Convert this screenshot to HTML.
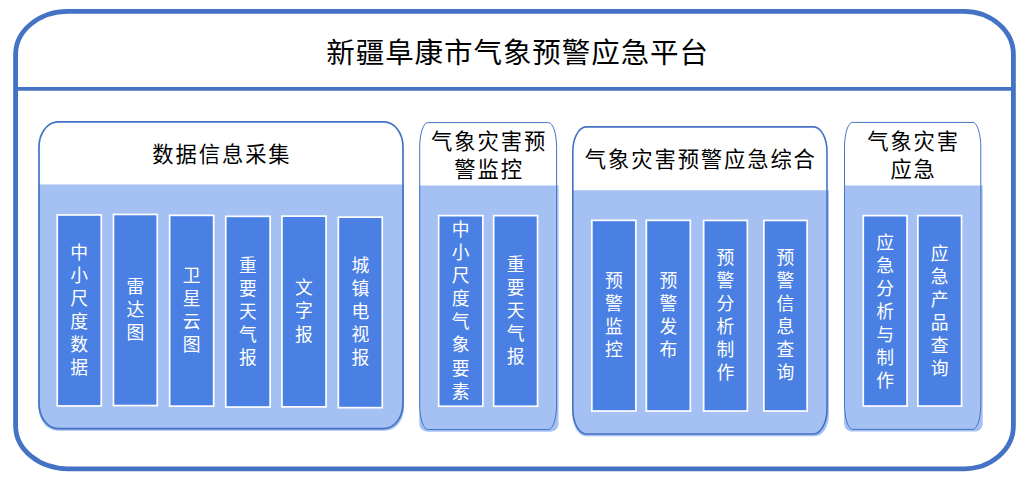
<!DOCTYPE html>
<html lang="zh-CN">
<head>
<meta charset="utf-8">
<title>新疆阜康市气象预警应急平台</title>
<style>
html,body{margin:0;padding:0;background:#fff;}
body{width:1030px;height:484px;position:relative;overflow:hidden;font-family:"Liberation Sans","Noto Sans CJK SC",sans-serif;font-weight:350;}
svg{position:absolute;left:0;top:0;}
.t{position:absolute;white-space:nowrap;text-align:center;color:#000;font-weight:400;}
.title{font-size:28.5px;line-height:40px;letter-spacing:0.94px;}
.head{font-size:21.3px;line-height:28.0px;letter-spacing:1.9px;}
.v{position:absolute;color:#fff;font-weight:400;text-align:center;font-size:17.8px;line-height:23.05px;}
.v span{display:block;}
</style>
</head>
<body>
<svg width="1030" height="484" viewBox="0 0 1030 484">
<path d="M68.10,11.40 H963.40 A50,43 0 0 1 1013.40,54.40 V425.80 A50,43 0 0 1 963.40,468.80 H68.10 A52.5,43 0 0 1 15.60,425.80 V54.40 A52.5,43 0 0 1 68.10,11.40 Z" fill="#fff" stroke="#4472C4" stroke-width="4.8"/>
<line x1="15.6" y1="88.9" x2="1013.4" y2="88.9" stroke="#4472C4" stroke-width="3.9"/>
<path d="M38.60,184.60 H404.00 V407.80 A19,23 0 0 1 385.00,430.80 H57.60 A19,23 0 0 1 38.60,407.80 Z" fill="#A5C0F2"/>
<path d="M58.00,121.90 H384.00 A19,25 0 0 1 403.00,146.90 V403.60 A19,25 0 0 1 384.00,428.60 H58.00 A19,25 0 0 1 39.00,403.60 V146.90 A19,25 0 0 1 58.00,121.90 Z" fill="none" stroke="#4472C4" stroke-width="1.7"/>
<rect x="57.25" y="214.95" width="44.00" height="191.00" fill="#4A7FE3" stroke="#fff" stroke-width="1.7"/>
<rect x="113.45" y="214.45" width="43.80" height="191.10" fill="#4A7FE3" stroke="#fff" stroke-width="1.7"/>
<rect x="169.65" y="215.35" width="44.00" height="190.80" fill="#4A7FE3" stroke="#fff" stroke-width="1.7"/>
<rect x="225.75" y="216.35" width="44.40" height="190.70" fill="#4A7FE3" stroke="#fff" stroke-width="1.7"/>
<rect x="281.95" y="216.15" width="44.10" height="190.70" fill="#4A7FE3" stroke="#fff" stroke-width="1.7"/>
<rect x="338.35" y="217.15" width="43.90" height="190.50" fill="#4A7FE3" stroke="#fff" stroke-width="1.7"/>
<path d="M419.30,185.50 H558.50 V423.70 A8,8 0 0 1 550.50,431.70 H427.30 A8,8 0 0 1 419.30,423.70 Z" fill="#A5C0F2"/>
<path d="M427.70,122.60 H548.60 A8,25 0 0 1 556.60,147.60 V404.50 A8,25 0 0 1 548.60,429.50 H427.70 A8,25 0 0 1 419.70,404.50 V147.60 A8,25 0 0 1 427.70,122.60 Z" fill="none" stroke="#4472C4" stroke-width="1.0"/>
<rect x="438.65" y="215.65" width="44.20" height="190.60" fill="#4A7FE3" stroke="#fff" stroke-width="1.7"/>
<rect x="493.65" y="215.65" width="43.90" height="190.60" fill="#4A7FE3" stroke="#fff" stroke-width="1.7"/>
<path d="M572.40,190.20 H828.90 V414.20 A13.5,22 0 0 1 815.40,436.20 H585.90 A13.5,22 0 0 1 572.40,414.20 Z" fill="#A5C0F2"/>
<path d="M586.30,126.90 H813.50 A13.5,25 0 0 1 827.00,151.90 V409.00 A13.5,25 0 0 1 813.50,434.00 H586.30 A13.5,25 0 0 1 572.80,409.00 V151.90 A13.5,25 0 0 1 586.30,126.90 Z" fill="none" stroke="#4472C4" stroke-width="1.6"/>
<rect x="591.85" y="220.35" width="44.00" height="190.70" fill="#4A7FE3" stroke="#fff" stroke-width="1.7"/>
<rect x="646.35" y="220.35" width="44.00" height="190.70" fill="#4A7FE3" stroke="#fff" stroke-width="1.7"/>
<rect x="703.65" y="220.45" width="43.70" height="190.60" fill="#4A7FE3" stroke="#fff" stroke-width="1.7"/>
<rect x="763.85" y="220.45" width="43.30" height="190.60" fill="#4A7FE3" stroke="#fff" stroke-width="1.7"/>
<path d="M844.10,185.60 H982.70 V423.60 A8,8 0 0 1 974.70,431.60 H852.10 A8,8 0 0 1 844.10,423.60 Z" fill="#A5C0F2"/>
<path d="M852.50,122.40 H972.80 A8,25 0 0 1 980.80,147.40 V404.40 A8,25 0 0 1 972.80,429.40 H852.50 A8,25 0 0 1 844.50,404.40 V147.40 A8,25 0 0 1 852.50,122.40 Z" fill="none" stroke="#4472C4" stroke-width="1.0"/>
<rect x="863.25" y="215.65" width="43.80" height="190.40" fill="#4A7FE3" stroke="#fff" stroke-width="1.7"/>
<rect x="917.85" y="215.65" width="43.70" height="190.40" fill="#4A7FE3" stroke="#fff" stroke-width="1.7"/>
</svg>
<div class="t title" style="left:2.67px;width:1030px;top:32.70px;">新疆阜康市气象预警应急平台</div>
<div class="t head" style="left:21.95px;width:400px;top:140.85px;">数据信息采集</div>
<div class="v" style="left:56.40px;width:45.70px;top:241.80px;"><span>中</span><span>小</span><span>尺</span><span>度</span><span>数</span><span>据</span></div>
<div class="v" style="left:112.60px;width:45.50px;top:275.93px;"><span>雷</span><span>达</span><span>图</span></div>
<div class="v" style="left:168.80px;width:45.70px;top:265.15px;"><span>卫</span><span>星</span><span>云</span><span>图</span></div>
<div class="v" style="left:224.90px;width:46.10px;top:254.57px;"><span>重</span><span>要</span><span>天</span><span>气</span><span>报</span></div>
<div class="v" style="left:281.10px;width:45.80px;top:277.43px;"><span>文</span><span>字</span><span>报</span></div>
<div class="v" style="left:337.50px;width:45.60px;top:255.28px;"><span>城</span><span>镇</span><span>电</span><span>视</span><span>报</span></div>
<div class="t head" style="left:289.10px;width:400px;top:128.15px;">气象灾害预<br>警监控</div>
<div class="v" style="left:437.80px;width:45.90px;top:219.25px;"><span>中</span><span>小</span><span>尺</span><span>度</span><span>气</span><span>象</span><span>要</span><span>素</span></div>
<div class="v" style="left:492.80px;width:45.60px;top:253.82px;"><span>重</span><span>要</span><span>天</span><span>气</span><span>报</span></div>
<div class="t head" style="left:500.85px;width:400px;top:146.15px;">气象灾害预警应急综合</div>
<div class="v" style="left:591.00px;width:45.70px;top:270.10px;"><span>预</span><span>警</span><span>监</span><span>控</span></div>
<div class="v" style="left:645.50px;width:45.70px;top:270.10px;"><span>预</span><span>警</span><span>发</span><span>布</span></div>
<div class="v" style="left:702.80px;width:45.40px;top:247.10px;"><span>预</span><span>警</span><span>分</span><span>析</span><span>制</span><span>作</span></div>
<div class="v" style="left:763.00px;width:45.00px;top:247.10px;"><span>预</span><span>警</span><span>信</span><span>息</span><span>查</span><span>询</span></div>
<div class="t head" style="left:713.60px;width:400px;top:128.10px;">气象灾害<br>应急</div>
<div class="v" style="left:862.40px;width:45.50px;top:231.68px;"><span>应</span><span>急</span><span>分</span><span>析</span><span>与</span><span>制</span><span>作</span></div>
<div class="v" style="left:917.00px;width:45.40px;top:243.20px;"><span>应</span><span>急</span><span>产</span><span>品</span><span>查</span><span>询</span></div>
</body>
</html>
